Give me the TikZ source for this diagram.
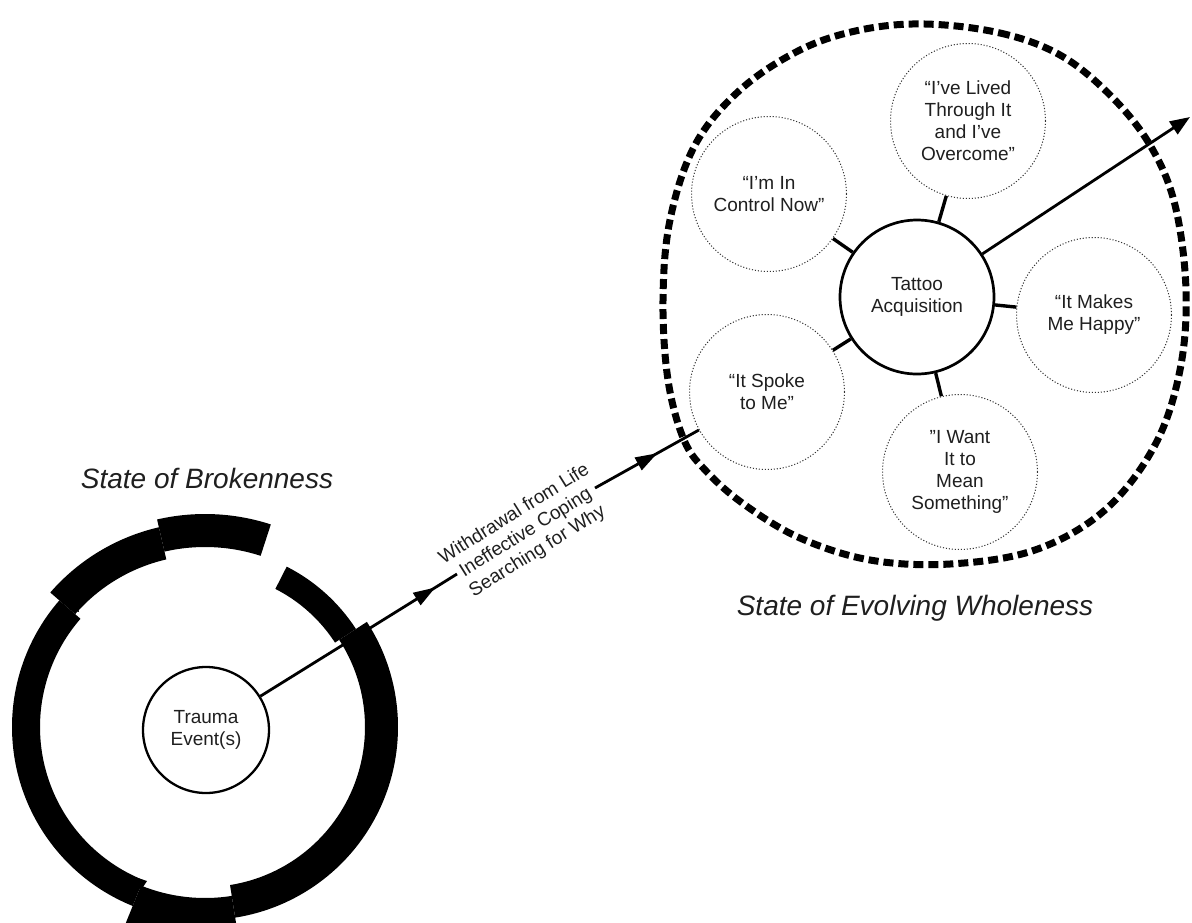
\documentclass[tikz,border=0pt]{standalone}
\usepackage{fontspec}
\setmainfont{Liberation Sans}
\usetikzlibrary{arrows.meta,decorations.markings,calc}
\begin{document}
\begin{tikzpicture}[x=1pt,y=-1pt,
  txt/.style={font=\fontsize{19}{22}\selectfont, align=center, text=black!88},
  dotc/.style={circle, draw=black!80, line width=1pt, dash pattern=on 1.1pt off 1.9pt,
    minimum size=155pt, inner sep=0pt, txt},
  solidc/.style={circle, draw=black, minimum size=154pt, inner sep=0pt, txt},
  conn/.style={line width=3.4pt},
  mainline/.style={line width=2.8pt},
  title/.style={font=\fontsize{28}{32}\selectfont\itshape, text=black!88},
  midarrow/.style={postaction={decorate}, decoration={markings,
    mark=at position #1 with {\arrow{Triangle[length=22pt,width=14pt]}}}}
]
\useasboundingbox (0,0) rectangle (1192,922);
\fill[white] (0,0) rectangle (1192,922);

% titles
\node[title, anchor=base] (t1) at (207,488) {State of Brokenness};
\node[title, anchor=base] (t2) at (915,615) {State of Evolving Wholeness};

% broken ring
\begin{scope}
\clip (0,0) rectangle (1192,922);
\begin{scope}[shift={(205,727)}, yscale=-1]
\def\ringpc#1#2#3#4{\fill[black] (#1:#3) arc[start angle=#1,end angle=#2,radius=#3]
  -- (#2:#4) arc[start angle=#2,end angle=#1,radius=#4] -- cycle;}
\ringpc{72}{103}{180}{213}
\ringpc{103}{139}{172}{205}
\ringpc{139}{248}{165}{193}
\ringpc{248}{279}{171}{215}
\ringpc{-81}{33}{160}{193}
\ringpc{33}{63}{155}{180}
\end{scope}
\fill[black] (125,874) -- (147,881) -- (141,890) -- cycle;
\fill[black] (70,575) -- (79,612) -- (66,606) -- cycle;
\end{scope}

% big dashed circle (hand-drawn outline)
\draw[black, line width=7pt, dash pattern=on 10pt off 5pt]
  plot[smooth cycle, tension=0.6] coordinates {
  (925,24) (1000,33) (1060,55) (1110,95) (1150,145) (1175,205) (1186,290)
  (1180,370) (1155,445) (1105,510) (1035,550) (950,564) (870,560) (800,538)
  (745,505) (707,472) (684,440) (668,380) (663,300) (670,220) (695,145)
  (740,90) (800,50) (860,30)};

% nodes
\node[solidc, line width=2.3pt, minimum size=126pt] (trauma) at (206,730) {Trauma\\Event(s)};
\node[solidc, line width=2.7pt] (tat) at (917,297) {Tattoo\\Acquisition};
\node[dotc] (lived) at (968,121) {“I’ve Lived\\Through It\\and I’ve\\Overcome”};
\node[dotc] (ctl) at (769,194) {“I’m In\\Control Now”};
\node[dotc] (happy) at (1094,315) {“It Makes\\Me Happy”};
\node[dotc] (spoke) at (767,392) {“It Spoke\\to Me”};
\node[dotc] (want) at (960,472) {"I Want\\It to\\Mean\\Something”};

% label on the path
\node[txt, rotate=32, inner sep=0pt] (lbl) at (526,533)
  {Withdrawal from Life\\Ineffective Coping\\Searching for Why};

\coordinate (g1) at (457,574);
\coordinate (g2) at (595,488);
\coordinate (tip) at (1190,117);

% main path
\draw[mainline, midarrow=0.89] (trauma) -- (g1);
\draw[mainline, midarrow=0.6] (g2) -- (spoke);
\draw[mainline, -{Triangle[length=20pt,width=15pt]}] (tat) -- (tip);

% connectors
\draw[conn] (tat) -- (lived);
\draw[conn] (tat) -- (ctl);
\draw[conn] (tat) -- (happy);
\draw[conn] (tat) -- (spoke);
\draw[conn] (tat) -- (want);
\end{tikzpicture}
\end{document}
